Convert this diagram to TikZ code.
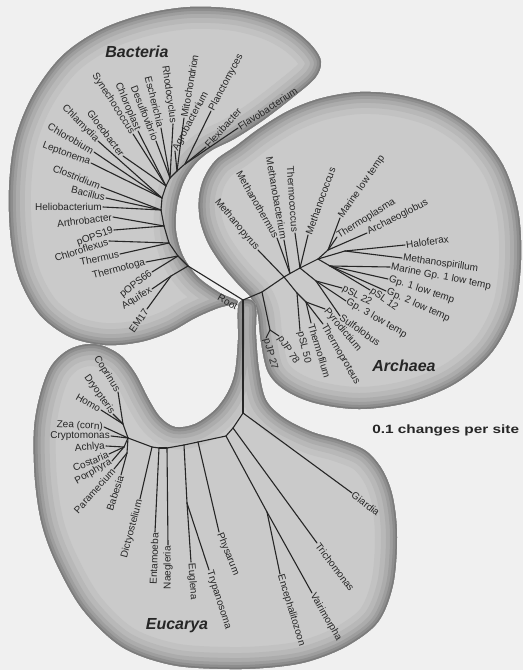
\documentclass[tikz,border=0pt]{standalone}
\usepackage{fontspec}
\setmainfont{Liberation Sans}
\definecolor{bg}{RGB}{240,240,240}
\definecolor{blobc}{RGB}{202,202,202}
\definecolor{rimA}{RGB}{194,194,194}
\definecolor{rimB}{RGB}{184,184,184}
\definecolor{rimC}{RGB}{172,172,172}
\definecolor{rimD}{RGB}{158,158,158}
\definecolor{rimE}{RGB}{142,142,142}
\definecolor{rimF}{RGB}{124,124,124}
\definecolor{ink}{RGB}{38,38,38}
\newcommand\bactpath{plot[smooth cycle,tension=0.55] coordinates {(238,302) (220,293) (198,277) (183,256) (176,231) (177,205) (184,181) (196,163) (212,150) (234,139) (262,121) (292,98) (315,78) (321,62) (313,47) (295,31) (270,18) (235,9) (190,7) (145,14) (100,30) (62,56) (33,95) (15,140) (9,190) (11,240) (20,280) (40,315) (70,337) (105,345) (140,342) (170,332) (195,318) (218,308)}}
\newcommand\archpath{plot[smooth cycle,tension=0.55] coordinates {(250,296) (238,284) (222,265) (208,243) (200,220) (199,198) (204,178) (216,160) (236,146) (260,128) (290,110) (322,98) (360,92) (400,95) (440,107) (475,130) (503,165) (518,210) (521,260) (514,310) (492,352) (456,383) (410,402) (360,409) (315,403) (285,390) (268,372) (261,342) (258,315) (254,303)}}
\newcommand\eucpath{plot[smooth cycle,tension=0.55] coordinates {(239,303) (238,340) (235,372) (228,392) (215,410) (195,424) (175,427) (160,417) (148,398) (135,373) (120,355) (100,345) (82,345) (65,352) (50,368) (40,395) (34,430) (35,480) (42,525) (57,565) (83,610) (122,647) (172,665) (230,669) (275,667) (310,661) (347,646) (378,622) (393,585) (397,537) (393,498) (383,471) (366,451) (340,440) (312,432) (284,418) (266,400) (259,370) (256,335) (255,303)}}
\newcommand\blobdraw[1]{%
  \fill[blobc] #1;
  \begin{scope}
    \clip #1;
    \draw[rimA,line width=44pt] #1;
    \draw[rimB,line width=32pt] #1;
    \draw[rimC,line width=22pt] #1;
    \draw[rimD,line width=14pt] #1;
    \draw[rimE,line width=8pt] #1;
    \draw[rimF,line width=3pt] #1;
  \end{scope}}
\newcommand\lfE[6]{\coordinate (#1) at (#3,#4); \draw[br] (#2) -- (#1); \node[lbl,anchor=east,rotate=#5] (#1t) at (#1) {#6};}
\newcommand\lfW[6]{\coordinate (#1) at (#3,#4); \draw[br] (#2) -- (#1); \node[lbl,anchor=west,rotate=#5] (#1t) at (#1) {#6};}
\newcommand\inn[3]{\coordinate (#1) at (#3); \draw[br] (#2) -- (#1);}
\begin{document}
\begin{tikzpicture}[x=1pt,y=-1pt,
  br/.style={draw=ink,line width=1.1pt,line cap=round},
  lbl/.style={font=\fontsize{10}{10.5}\selectfont,text=ink,inner sep=1pt},
  grp/.style={font=\fontsize{16}{17}\selectfont\bfseries\itshape,text=black!85,inner sep=0pt}]
\fill[bg] (0,0) rectangle (523,670);
\useasboundingbox (0,0) rectangle (523,670);
\blobdraw{\bactpath}
\blobdraw{\archpath}
\blobdraw{\eucpath}
% ---------------- root
\coordinate (R) at (243,300);
\node[lbl,rotate=-30,anchor=east] (rootlbl) at (238,308) {Root};
% ---------------- Bacteria
\inn{bb0}{R}{188,266}
\inn{bb1}{bb0}{178,256}
\inn{bb2}{bb1}{169,243}
\inn{bb3}{bb2}{164,226}
\inn{bb4}{bb3}{161,210}
\inn{bb5}{bb4}{162,198}
\inn{bb6}{bb5}{166,186}
\inn{bb7}{bb6}{170,178}
\inn{bb8}{bb7}{177,171}
\inn{bb9}{bb8}{185,164}
\inn{bAq}{bb0}{171,276}
\lfE{aqu}{bAq}{152}{289}{32}{Aquifex}
\lfE{em}{bAq}{147}{309}{55}{EM17}
\lfE{pop66}{bb1}{152}{272}{38}{pOPS66}
\lfE{tmt}{bb1}{146}{262}{15}{Thermotoga}
\lfE{ths}{bb2}{120}{254}{12}{Thermus}
\lfE{chf}{bb2}{109}{241}{18}{Chloroflexus}
\lfE{pop19}{bb3}{114}{230}{20}{pOPS19}
\lfE{art}{bb3}{113}{217}{7}{Arthrobacter}
\lfE{hel}{bb4}{103}{207}{0}{Heliobacterium}
\lfE{bac}{bb4}{106}{198}{-14}{Bacillus}
\lfE{clo}{bb4}{101}{187}{-22}{Clostridium}
\lfE{lep}{bb5}{91}{163}{-20}{Leptonema}
\lfE{chb}{bb5}{94}{152}{-30}{Chlorobium}
\lfE{chl}{bb5}{98}{141}{-45}{Chlamydia}
\lfE{glo}{bb6}{123}{156}{-53}{Gloeobacter}
\lfE{syn}{bb6}{133}{134}{-57}{Synechococcus}
\lfE{cpl}{bb6}{138}{131}{-67}{Chloroplast}
\lfE{des}{bb7}{156}{141}{-68}{Desulfovibrio}
\lfE{esc}{bb7}{161}{128}{-76}{Escherichia}
\lfE{rho}{bb7}{173}{124}{-82}{Rhodocyclus}
\lfW{mit}{bb8}{184}{118}{80}{Mitochondrion}
\lfW{agr}{bb8}{175}{151}{62}{Agrobacterium}
\lfW{pla}{bb9}{211}{111}{62}{Planctomyces}
\lfW{flx}{bb9}{206}{147}{48}{Flexibacter}
\lfW{flv}{bb9}{238}{128}{33}{Flavobacterium}
% ---------------- Archaea
\inn{a1}{R}{262,292}
\inn{a2}{a1}{284,277}
\inn{aU}{a2}{290,273.5}
\inn{a3}{aU}{300,268}
\inn{a4}{a3}{318,259}
\inn{a5}{a4}{345,251}
\inn{aJ}{a1}{270,330}
\lfW{pj27}{aJ}{266}{338}{-75}{pJP 27}
\lfW{pj78}{aJ}{279}{336}{-57}{pJP 78}
\inn{aC}{a2}{297,293}
\inn{aC2}{aC}{306,302}
\lfW{psl50}{aC}{300}{331}{-77}{pSL 50}
\lfW{tfil}{aC2}{311}{323}{-73}{Thermofilum}
\lfW{tpro}{aC2}{323}{324}{-60}{Thermoproteus}
\lfW{pyr}{aC2}{325}{309}{-50}{Pyrodictium}
\inn{aM}{a3}{316,281}
\lfW{sul}{aM}{340}{316}{-35}{Sulfolobus}
\lfW{gp3}{aM}{346}{301}{-30}{Gp. 3 low temp}
\lfW{psl22}{aM}{342}{288}{-28}{pSL 22}
\inn{aM1}{a4}{330,266}
\lfW{psl12}{aM1}{370}{290}{-35}{pSL 12}
\lfW{gp2}{aM1}{386}{291}{-24}{Gp. 2 low temp}
\lfW{gp1}{aM1}{388}{279}{-18}{Gp. 1 low temp}
\lfW{mgp1}{aM1}{390}{267}{-11}{Marine Gp. 1 low temp}
\lfE{mpy}{a2}{258}{250}{-50}{Methanopyrus}
\lfE{mth}{aU}{277}{238}{-60}{Methanothermus}
\lfE{mba}{aU}{284}{240}{-80}{Methanobacterium}
\lfE{tcc}{a3}{295}{233}{-86}{Thermococcus}
\lfW{mcc}{a3}{308}{235}{70}{Methanococcus}
\inn{aT}{a4}{328,250}
\lfW{mlt}{aT}{340}{218}{55}{Marine low temp}
\lfW{tpl}{aT}{337}{237}{32}{Thermoplasma}
\lfW{arg}{aT}{367}{233}{27}{Archaeoglobus}
\lfW{hfx}{a5}{405}{245}{8}{Haloferax}
\lfW{msp}{a5}{402}{258}{-8}{Methanospirillum}
% ---------------- Eucarya
\inn{E0}{R}{243,413}
\lfW{gia}{E0}{352}{493}{-38}{Giardia}
\inn{E1}{E0}{233,428}
\lfW{tri}{E1}{317}{543}{-53}{Trichomonas}
\inn{E2}{E1}{226,436}
\inn{Em}{E2}{267,512}
\lfW{enc}{Em}{280}{574}{-73}{Encephalitozoon}
\lfW{vai}{Em}{312}{593}{-60}{Vairimorpha}
\inn{Ep}{E2}{198,442}
\lfW{phy}{Ep}{219}{532}{-68}{Physarum}
\inn{E3}{Ep}{184,445}
\inn{Eet}{E3}{187,503}
\lfW{try}{Eet}{209}{570}{-72}{Trypanosoma}
\lfW{eug}{Eet}{191}{562}{-86}{Euglena}
\inn{E4}{E3}{167,448}
\lfE{nae}{E4}{168}{545}{90}{Naegleria}
\inn{E4b}{E4}{159,448}
\lfE{ent}{E4b}{155}{532}{88}{Entamoeba}
\inn{E4c}{E4b}{152,447}
\lfE{dic}{E4c}{140}{499}{75}{Dictyostelium}
\inn{E5}{E4c}{128,438}
\inn{Ec1}{E5}{123,424}
\lfE{cop}{Ec1}{118}{392}{-58}{Coprinus}
\lfE{unk}{Ec1}{113}{414}{-55}{Dryopteris}
\lfE{hom}{Ec1}{101}{410}{-30}{Homo}
\lfE{zea}{E5}{104}{427}{-3}{Zea (corn)}
\lfE{cry}{E5}{111}{436}{0}{Cryptomonas}
\inn{Ec2}{E5}{124,447}
\lfE{ach}{Ec2}{106}{446}{5}{Achlya}
\lfE{cos}{Ec2}{109}{454}{22}{Costaria}
\lfE{por}{Ec2}{112}{461}{30}{Porphyra}
\inn{Ec3}{E5}{127,453}
\lfE{par}{Ec3}{114}{469}{48}{Paramecium}
\lfE{bab}{Ec3}{121}{475}{72}{Babesia}
% ---------------- group labels
\node[grp] (bact) at (137,52) {Bacteria};
\node[grp] (arch) at (404,366) {Archaea};
\node[grp] (euca) at (177,626) {Eucarya};
\node[font=\fontsize{12}{13}\selectfont\bfseries,text=black!85,anchor=west,inner sep=0pt,xscale=1.28] (scl) at (372,430) {0.1 changes per site};
\end{tikzpicture}
\end{document}
